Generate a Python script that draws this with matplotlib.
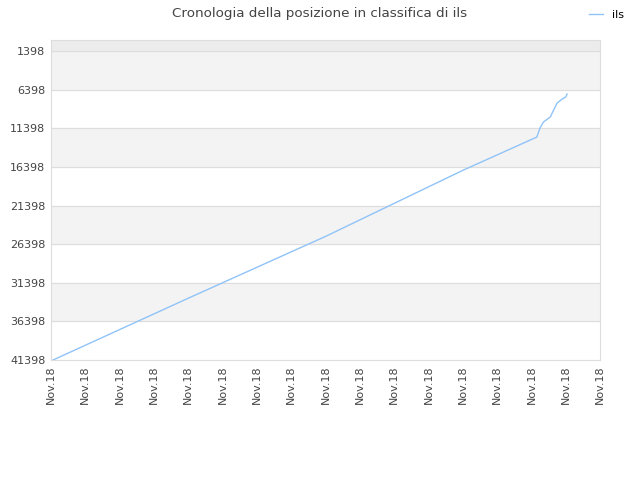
import matplotlib
matplotlib.use('Agg')
import matplotlib.pyplot as plt

# posizione in classifica (x in unità di tick, y = rank)
days = [0.06, 4.0, 8.0, 12.0, 14.16, 14.25, 14.35, 14.55, 14.65, 14.75, 14.9, 15.0, 15.04]
ranks = [41398, 33400, 25400, 16850, 12535, 11370, 10592, 9945, 9039, 8132, 7614, 7355, 6967]

tick_labels = ['Nov.18'] * 17
ytick_vals = [1398, 6398, 11398, 16398, 21398, 26398, 31398, 36398, 41398]

fig = plt.figure(figsize=(6.4, 4.8), dpi=100)
ax = fig.add_axes([0.0797, 0.25, 0.8578, 0.6667])

ymin, ymax = 41398, -30
ax.set_ylim(ymin, ymax)
ax.set_xlim(0, 16)

# bande alternate
bands = [(1398, 6398), (11398, 16398), (21398, 26398), (31398, 36398)]
for lo, hi in bands:
    ax.axhspan(lo, hi, color='#f3f3f3', zorder=0)
ax.axhspan(-30, 1398, color='#ececec', zorder=0)

ax.plot(days, ranks, color='#90c3f7', lw=1, label='ils', zorder=3)

ax.set_yticks(ytick_vals)
ax.set_yticklabels([str(v) for v in ytick_vals])
ax.set_xticks(range(17))
ax.set_xticklabels(tick_labels, rotation=90)
ax.yaxis.grid(True, color='#dddddd', lw=0.8)
ax.set_axisbelow(True)
ax.tick_params(axis='both', labelsize=8, colors='#444444', length=0, pad=4)
for s in ax.spines.values():
    s.set_color('#dddddd')

fig.suptitle('Cronologia della posizione in classifica di ils', fontsize=9.7, color='#444444', y=0.985)
fig.legend(loc='upper right', frameon=False, fontsize=8, handlelength=1.2, bbox_to_anchor=(0.99, 1.0))

plt.savefig('out.png', dpi=100)
